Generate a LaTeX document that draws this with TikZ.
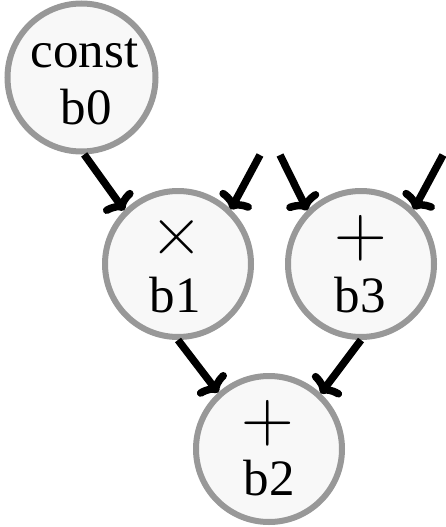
\documentclass[tikz,border=0pt]{standalone}
\usepackage{fontspec}
\setmainfont{Liberation Serif}
\newfontfamily\opfont{lmroman17-regular.otf}
\usetikzlibrary{arrows.meta,calc}
\definecolor{ringgray}{RGB}{152,152,152}
\definecolor{ringfill}{RGB}{248,248,248}
\begin{document}
\begin{tikzpicture}[x=1pt,y=-1pt,
  opnode/.style={circle,draw=ringgray,fill=ringfill,line width=6pt,minimum size=146pt,inner sep=0pt},
  lbl/.style={inner sep=0pt,font=\fontsize{51}{51}\selectfont,anchor=base},
  sym/.style={inner sep=0pt,font=\opfont\fontsize{73}{73}\selectfont},
  flow/.style={line width=7.5pt,-{To[length=14pt,width=36pt]}}]
\useasboundingbox (0,0) rectangle (446,527);
% operation nodes
\node[opnode,minimum size=148pt] (b0) at (81.5,77.5) {};
\node[opnode] (b1) at (178,264) {};
\node[opnode] (b3) at (361,264) {};
\node[opnode] (b2) at (269,449) {};
% texts
\node[lbl] (b0op) at (84.5,67) {const};
\node[lbl] (b0id) at (86,124) {b0};
\node[sym] (b1op) at (177,238) {×};
\node[lbl] (b1id) at (175,312) {b1};
\node[sym] (b3op) at (361,238.5) {+};
\node[lbl] (b3id) at (360,312) {b3};
\node[sym] (b2op) at (268,423) {+};
\node[lbl] (b2id) at (269,495) {b2};
% free inputs
\coordinate (in1) at (260,155);
\coordinate (in2) at (280,155);
\coordinate (in3) at (443,155);
% connectors
\draw[flow] (b0.272) -- (b1.135);
\draw[flow] (in1) -- (b1.46);
\draw[flow] (in2) -- (b3.135);
\draw[flow] (in3) -- (b3.46);
\draw[flow] (b1.270) -- (b2.132);
\draw[flow] (b3.270) -- (b2.47);
\end{tikzpicture}
\end{document}
